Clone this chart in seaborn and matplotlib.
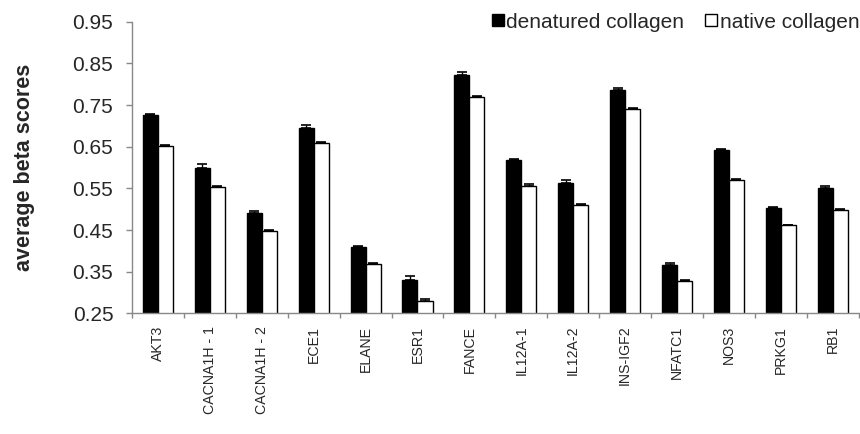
import numpy as np
import pandas as pd
import matplotlib
matplotlib.use("Agg")
import matplotlib.pyplot as plt
import seaborn as sns
from matplotlib.lines import Line2D
from matplotlib.ticker import FixedLocator

genes = ["AKT3", "CACNA1H - 1", "CACNA1H - 2", "ECE1", "ELANE", "ESR1", "FANCE",
         "IL12A-1", "IL12A-2", "INS-IGF2", "NFATC1", "NOS3", "PRKG1", "RB1"]
denatured = [0.725, 0.600, 0.492, 0.695, 0.409, 0.330, 0.822,
             0.618, 0.564, 0.786, 0.365, 0.642, 0.504, 0.551]
native = [0.651, 0.554, 0.448, 0.659, 0.369, 0.279, 0.769,
          0.555, 0.510, 0.740, 0.327, 0.570, 0.461, 0.498]
denatured_err = [0.003, 0.008, 0.004, 0.006, 0.002, 0.009, 0.007,
                 0.003, 0.005, 0.006, 0.007, 0.003, 0.002, 0.004]
native_err = [0.004, 0.002, 0.002, 0.003, 0.002, 0.005, 0.003,
              0.005, 0.002, 0.003, 0.002, 0.002, 0.002, 0.003]
series = ["denatured collagen", "native collagen"]

df = pd.DataFrame({
    "gene": genes * 2,
    "score": denatured + native,
    "err": denatured_err + native_err,
    "sample": [series[0]] * len(genes) + [series[1]] * len(genes),
})

sns.set_theme(style="white")
plt.rcParams["font.family"] = ["Liberation Sans", "DejaVu Sans"]

fig = plt.figure(figsize=(8.6, 4.34), dpi=100)
ax = fig.add_axes([0.1535, 0.278, 0.845, 0.672])

sns.barplot(data=df, x="gene", y="score", hue="sample", order=genes,
            hue_order=series, palette=["black", "white"], width=0.58,
            edgecolor="black", linewidth=1.0, errorbar=None, legend=False, ax=ax)

# error bars (upper only) on top of each bar
for container, s in zip(ax.containers, series):
    sub = df[df["sample"] == s].set_index("gene").loc[genes]
    xs = [p.get_x() + p.get_width() / 2 for p in container.patches]
    ys = [p.get_height() for p in container.patches]
    ax.errorbar(xs, ys, yerr=[np.zeros(len(xs)), sub["err"].values],
                fmt="none", ecolor="black", elinewidth=1.0, capsize=3.5, capthick=1.2)

yticks = np.arange(0.25, 0.951, 0.10)
ax.set_ylim(0.25, 0.95)
ax.set_yticks(yticks)
ax.set_yticklabels([f"{v:.2f}" for v in yticks], fontsize=15)
ax.set_xlim(-0.5, len(genes) - 0.5)
ax.set_xticks(range(len(genes)))
ax.set_xticklabels(genes, rotation=90, fontsize=10.2)
ax.xaxis.set_minor_locator(FixedLocator(np.arange(-0.5, len(genes), 1.0)))
ax.tick_params(axis="x", which="major", length=0, pad=9)
ax.tick_params(axis="x", which="minor", length=3.5, color="#888888", width=1, bottom=True)
ax.tick_params(axis="y", length=4.5, color="#888888", width=1, left=True, pad=9)
ax.set_xlabel("")
ax.set_ylabel("average beta scores", fontsize=15.5, fontweight="bold", labelpad=27)

for side in ["top", "right"]:
    ax.spines[side].set_visible(False)
for side in ["left", "bottom"]:
    ax.spines[side].set_color("#888888")
    ax.spines[side].set_linewidth(1)

handles = [Line2D([], [], marker="s", linestyle="none", markersize=8,
                  markerfacecolor=c, markeredgecolor="black", markeredgewidth=1)
           for c in ["black", "white"]]
fig.legend(handles, series, loc="center right", bbox_to_anchor=(0.999, 0.949),
           ncol=2, frameon=False, fontsize=15, handletextpad=0.1, columnspacing=1.0,
           handlelength=0.6, borderpad=0, borderaxespad=0)

fig.savefig("out.png", dpi=100)
